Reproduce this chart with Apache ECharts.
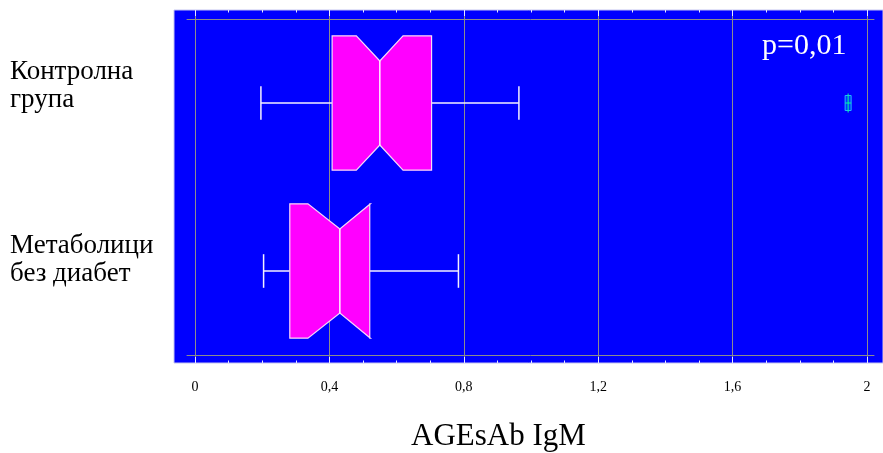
<!DOCTYPE html>
<html>
<head>
<meta charset="utf-8">
<script src="https://cdn.jsdelivr.net/npm/echarts@6/dist/echarts.min.js"></script>
<style>html,body{margin:0;padding:0;background:#fff}#c{width:883px;height:453px}</style>
</head>
<body>
<div id="c"></div>
<script>
// ---- data ----
const categories = ['Контролна\nгрупа', 'Метаболици\nбез диабет'];
// [low whisker, Q1, notch low, median, notch high, Q3, high whisker]
const controlBox = [0.197, 0.409, 0.481, 0.551, 0.620, 0.705, 0.965];
const metabolicBox = [0.205, 0.283, 0.337, 0.432, 0.523, 0.521, 0.785];
const outliers = [[0, 1.945]]; // [category index, value]
const xTicks = [0, 0.4, 0.8, 1.2, 1.6, 2];
const pText = 'p=0,01';
const axisTitle = 'AGEsAb IgM';

const SERIF = "'Liberation Serif','Times New Roman',serif";
const boxData = [[0].concat(controlBox), [1].concat(metabolicBox)];

const chart = echarts.init(document.getElementById('c'), null, {renderer: 'canvas'});

function renderBox(params, api) {
  const ci = api.value(0);
  const low = api.coord([api.value(1), ci]);
  const q1 = api.coord([api.value(2), ci]);
  const nlo = api.coord([api.value(3), ci]);
  const med = api.coord([api.value(4), ci]);
  const nhi = api.coord([api.value(5), ci]);
  const q3 = api.coord([api.value(6), ci]);
  const high = api.coord([api.value(7), ci]);
  const band = api.size([0, 1])[1];
  const cy = med[1];
  const hb = band * 0.40, hw = band * 0.25, hc = band * 0.10;
  const pts = [
    [q1[0], cy - hb], [nlo[0], cy - hb], [med[0], cy - hw], [nhi[0], cy - hb], [q3[0], cy - hb],
    [q3[0], cy + hb], [nhi[0], cy + hb], [med[0], cy + hw], [nlo[0], cy + hb], [q1[0], cy + hb]
  ];
  const wStyle = {stroke: '#f4f0ff', lineWidth: 1.5};
  return {
    type: 'group',
    children: [
      {type: 'line', shape: {x1: low[0], y1: cy, x2: q1[0], y2: cy}, style: wStyle},
      {type: 'line', shape: {x1: q3[0], y1: cy, x2: high[0], y2: cy}, style: wStyle},
      {type: 'line', shape: {x1: low[0], y1: cy - hc, x2: low[0], y2: cy + hc}, style: wStyle},
      {type: 'line', shape: {x1: high[0], y1: cy - hc, x2: high[0], y2: cy + hc}, style: wStyle},
      {type: 'polygon', shape: {points: pts}, style: {fill: '#ff00ff', stroke: '#f8d8f8', lineWidth: 1.2}},
      {type: 'line', shape: {x1: med[0], y1: cy - hw, x2: med[0], y2: cy + hw}, style: {stroke: '#fff0ff', lineWidth: 1.5}}
    ]
  };
}

function renderOutlier(params, api) {
  const p = api.coord([api.value(1), api.value(0)]);
  const x = p[0], y = p[1];
  return {
    type: 'group',
    children: [
      {type: 'rect', shape: {x: x - 3, y: y - 7.5, width: 6, height: 15}, style: {fill: 'rgba(0,160,255,0.35)', stroke: '#20b8ff', lineWidth: 1}},
      {type: 'line', shape: {x1: x, y1: y - 9.5, x2: x, y2: y + 9.5}, style: {stroke: '#00ff99', lineWidth: 1}},
      {type: 'line', shape: {x1: x - 3, y1: y, x2: x + 3, y2: y}, style: {stroke: '#00ff99', lineWidth: 1}}
    ]
  };
}

const tickCommon = {
  axisLine: {show: false},
  axisTick: {show: true, inside: true, length: 6, lineStyle: {color: '#e8e8ff', width: 1}},
  minorTick: {show: true, splitNumber: 4, length: 2.5, lineStyle: {color: '#e8e8ff', width: 1}},
};

const option = {
  animation: false,
  backgroundColor: '#ffffff',
  title: [
    {text: pText, left: 757, top: 26, textStyle: {fontFamily: SERIF, fontSize: 30, fontWeight: 'normal', color: '#ffffff'}},
    {text: axisTitle, left: 406, top: 416, textStyle: {fontFamily: SERIF, fontSize: 31, fontWeight: 'normal', color: '#000000'}}
  ],
  grid: [
    {left: 174, right: 0, top: 10, bottom: 90, show: true, backgroundColor: '#0000ff', borderColor: '#c4c4f0', borderWidth: 1},
    {left: 195, right: 16, top: 10, bottom: 90, show: false},
    {left: 187, right: 9, top: 19, bottom: 98, show: false}
  ],
  xAxis: [
    {gridIndex: 0, type: 'value', show: false, min: 0, max: 1},
    Object.assign({gridIndex: 1, type: 'value', position: 'bottom', min: xTicks[0], max: xTicks[xTicks.length - 1], interval: 0.4,
      axisLabel: {show: true, margin: 17, fontFamily: SERIF, fontSize: 14, color: '#000',
        formatter: v => String(+v.toFixed(2)).replace('.', ',')},
      splitLine: {show: true, lineStyle: {color: '#8c8c8c', width: 1}}}, tickCommon),
    Object.assign({gridIndex: 1, type: 'value', position: 'top', min: xTicks[0], max: xTicks[xTicks.length - 1], interval: 0.4,
      axisLabel: {show: false}, splitLine: {show: false}}, tickCommon),
    {gridIndex: 2, type: 'value', position: 'bottom', min: -0.023, max: 2.022,
      axisLine: {show: true, lineStyle: {color: '#8c8c8c', width: 1}}, axisTick: {show: false}, axisLabel: {show: false}, splitLine: {show: false}},
    {gridIndex: 2, type: 'value', position: 'top', min: -0.023, max: 2.022,
      axisLine: {show: true, lineStyle: {color: '#8c8c8c', width: 1}}, axisTick: {show: false}, axisLabel: {show: false}, splitLine: {show: false}}
  ],
  yAxis: [
    {gridIndex: 0, type: 'value', show: false, min: 0, max: 1},
    {gridIndex: 1, type: 'value', show: false, min: 0, max: 1},
    {gridIndex: 2, type: 'category', data: categories, inverse: true,
      axisLine: {show: false}, axisTick: {show: false}, splitLine: {show: false},
      axisLabel: {
        show: true, align: 'left', margin: 177,
        formatter: (v, i) => {
          const lines = v.split('\n');
          const sp = i === 0 ? 'sa' : 'sb';
          return lines.map(l => '{t|' + l + '}').join('\n') + '\n{' + sp + '| }';
        },
        rich: {
          t: {fontFamily: SERIF, fontSize: 27, lineHeight: 28, color: '#000'},
          sa: {fontSize: 10, lineHeight: 34},
          sb: {fontSize: 10, lineHeight: 22}
        }
      }}
  ],
  series: [
    {type: 'custom', xAxisIndex: 3, yAxisIndex: 2, renderItem: renderBox, data: boxData, encode: {x: [1, 7], y: 0}, z: 5},
    {type: 'custom', xAxisIndex: 3, yAxisIndex: 2, renderItem: renderOutlier, data: outliers, encode: {x: 1, y: 0}, z: 6}
  ]
};
chart.setOption(option);
</script>
</body>
</html>
